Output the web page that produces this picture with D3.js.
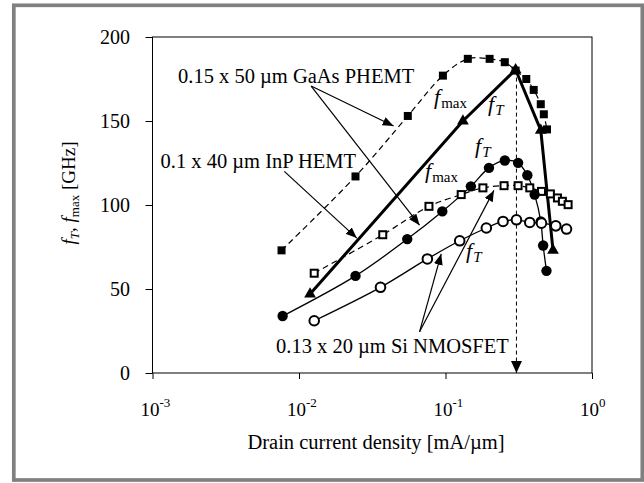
<html>
<head>
<meta charset="utf-8">
<title>fT fmax vs drain current density</title>
<script src="https://d3js.org/d3.v7.min.js"></script>
<style>
  body { margin: 0; background: #fff; }
  text { font-family: "Liberation Serif", "Times New Roman", serif; fill: #000; }
</style>
</head>
<body>
<div id="chart"></div>
<script>
// values: [drain current density mA/um, GHz]
var gaasFmax = [[0.0076, 73], [0.0243, 117], [0.0553, 153], [0.096, 177], [0.142, 187], [0.200, 187],
                [0.254, 185], [0.301, 180], [0.356, 175], [0.400, 168.5], [0.447, 160], [0.469, 154], [0.493, 145]];
var gaasFt = [[0.0119, 47], [0.1315, 150], [0.301, 180.5], [0.447, 144.5], [0.542, 73]];
var inpFmax = [[0.0127, 59.4], [0.0373, 82.3], [0.0771, 99.2], [0.128, 106.2], [0.180, 110.2], [0.251, 111.5],
               [0.313, 111.5], [0.376, 110.2], [0.452, 108.1], [0.520, 106.6], [0.581, 104.2], [0.628, 102.2], [0.687, 100.2]];
var inpFt = [[0.00773, 33.9], [0.0243, 57.8], [0.0548, 79.7], [0.0951, 96.2], [0.149, 111.1], [0.198, 122.1],
             [0.254, 126.5], [0.313, 125.1], [0.362, 117.7], [0.406, 106.2], [0.447, 90.2], [0.464, 75.9], [0.489, 60.8]];
var siFt = [[0.0127, 31.1], [0.036, 51], [0.0752, 67.9], [0.125, 78.7], [0.190, 86.3], [0.247, 90.2],
            [0.305, 91.2], [0.376, 89.6], [0.452, 89.2], [0.566, 87.6], [0.670, 85.7]];

var yTicks = [0, 50, 100, 150, 200];
var xTicks = [1e-3, 1e-2, 1e-1, 1];
var xExponents = ["-3", "-2", "-1", "0"];

// peak fT current density marker
var peakCurrent = [[0.305, 180], [0.305, 0]];

// annotation arrows: start point, tip point (data units)
var arrows = [
  [[0.0121, 170.8], [0.0442, 147]],
  [[0.0121, 170.8], [0.0665, 88]],
  [[0.00794, 120], [0.0248, 80.3]],
  [[0.0665, 24.5], [0.0935, 70.9]],
  [[0.0665, 24.5], [0.214, 108.7]]
];

var width = 644, height = 483;
var svg = d3.select("#chart").append("svg")
  .attr("width", width)
  .attr("height", height);

var x = d3.scaleLog().domain([1e-3, 1]).range([152.5, 592]);
var y = d3.scaleLinear().domain([0, 200]).range([373, 37]);

var defs = svg.append("defs");
defs.append("marker")
  .attr("id", "head")
  .attr("markerUnits", "userSpaceOnUse")
  .attr("viewBox", "0 0 11 9")
  .attr("refX", 11).attr("refY", 4.5)
  .attr("markerWidth", 11).attr("markerHeight", 9)
  .attr("orient", "auto")
  .append("path").attr("d", "M0,0 L11,4.5 L0,9 Z").attr("fill", "#000");
defs.append("marker")
  .attr("id", "bighead")
  .attr("markerUnits", "userSpaceOnUse")
  .attr("viewBox", "0 0 12 11")
  .attr("refX", 12).attr("refY", 5.5)
  .attr("markerWidth", 12).attr("markerHeight", 11)
  .attr("orient", "auto")
  .append("path").attr("d", "M0,0 L12,5.5 L0,11 Z").attr("fill", "#000");

// outer frame
svg.append("rect")
  .attr("x", 13.8).attr("y", 5.3)
  .attr("width", 628.5).attr("height", 474.7)
  .attr("fill", "none")
  .attr("stroke", "#808080")
  .attr("stroke-width", 3.7);

// plot box
svg.append("rect")
  .attr("x", x.range()[0]).attr("y", y.range()[1])
  .attr("width", x.range()[1] - x.range()[0])
  .attr("height", y.range()[0] - y.range()[1])
  .attr("fill", "none")
  .attr("stroke", "#000")
  .attr("stroke-width", 1);

// y axis
var yAxis = svg.append("g")
  .attr("transform", "translate(" + x.range()[0] + ",0)")
  .call(d3.axisLeft(y).tickValues(yTicks).tickSize(7).tickPadding(15.5));
yAxis.select(".domain").remove();
yAxis.selectAll(".tick line").attr("stroke", "#000");
yAxis.selectAll(".tick text")
  .style("font-family", "'Liberation Serif', 'Times New Roman', serif")
  .style("font-size", "20px");

// x axis
var xAxis = svg.append("g")
  .attr("transform", "translate(0," + y.range()[0] + ")")
  .call(d3.axisBottom(x).tickValues(xTicks).tickSize(6).tickFormat(""));
xAxis.select(".domain").remove();
xAxis.selectAll(".tick line").attr("stroke", "#000");
xAxis.selectAll(".tick").each(function(d, i) {
  var t = d3.select(this);
  t.append("text")
    .attr("x", -3).attr("y", 43)
    .attr("text-anchor", "middle")
    .style("font-size", "19px")
    .text("10");
  t.append("text")
    .attr("x", 6.5).attr("y", 34)
    .attr("text-anchor", "start")
    .style("font-size", "13px")
    .text(xExponents[i]);
});

// axis titles
svg.append("text")
  .attr("x", 376).attr("y", 449)
  .attr("text-anchor", "middle")
  .style("font-size", "20.5px")
  .text("Drain current density [mA/\u00b5m]");

var yt = svg.append("text")
  .attr("transform", "translate(75,193) rotate(-90)")
  .attr("text-anchor", "middle")
  .style("font-size", "19px");
yt.append("tspan").style("font-style", "italic").text("f");
yt.append("tspan").style("font-style", "italic").style("font-size", "13px").attr("dy", 4).text("T");
yt.append("tspan").attr("dy", -4).text(", ");
yt.append("tspan").style("font-style", "italic").text("f");
yt.append("tspan").style("font-size", "13px").attr("dy", 4).text("max");
yt.append("tspan").attr("dy", -4).text(" [GHz]");

// series lines
var smooth = d3.line()
  .x(function(d) { return x(d[0]); })
  .y(function(d) { return y(d[1]); })
  .curve(d3.curveCatmullRom.alpha(0.5));
var straight = d3.line()
  .x(function(d) { return x(d[0]); })
  .y(function(d) { return y(d[1]); });

svg.append("path").datum(gaasFmax).attr("d", smooth)
  .attr("fill", "none").attr("stroke", "#000").attr("stroke-width", 1.2).attr("stroke-dasharray", "6,4");
svg.append("path").datum(inpFmax).attr("d", smooth)
  .attr("fill", "none").attr("stroke", "#000").attr("stroke-width", 1.2).attr("stroke-dasharray", "6,4");
svg.append("path").datum(inpFt).attr("d", smooth)
  .attr("fill", "none").attr("stroke", "#000").attr("stroke-width", 1.3);
svg.append("path").datum(siFt).attr("d", smooth)
  .attr("fill", "none").attr("stroke", "#000").attr("stroke-width", 1.3);
svg.append("path").datum(gaasFt).attr("d", straight)
  .attr("fill", "none").attr("stroke", "#000").attr("stroke-width", 3);

// vertical dashed line at peak fT
svg.append("path").datum(peakCurrent).attr("d", straight)
  .attr("fill", "none").attr("stroke", "#000").attr("stroke-width", 1)
  .attr("stroke-dasharray", "4,3")
  .attr("marker-end", "url(#bighead)");

// markers
svg.selectAll(".gaasFmax").data(gaasFmax).enter().append("rect")
  .attr("x", function(d) { return x(d[0]) - 4; })
  .attr("y", function(d) { return y(d[1]) - 4; })
  .attr("width", 8).attr("height", 8)
  .attr("fill", "#000");

svg.selectAll(".inpFmax").data(inpFmax).enter().append("rect")
  .attr("x", function(d) { return x(d[0]) - 3.5; })
  .attr("y", function(d) { return y(d[1]) - 3.5; })
  .attr("width", 7).attr("height", 7)
  .attr("fill", "#fff").attr("stroke", "#000").attr("stroke-width", 2);

svg.selectAll(".inpFt").data(inpFt).enter().append("circle")
  .attr("cx", function(d) { return x(d[0]); })
  .attr("cy", function(d) { return y(d[1]); })
  .attr("r", 5.2)
  .attr("fill", "#000");

svg.selectAll(".siFt").data(siFt).enter().append("circle")
  .attr("cx", function(d) { return x(d[0]); })
  .attr("cy", function(d) { return y(d[1]); })
  .attr("r", 4.8)
  .attr("fill", "#fff").attr("stroke", "#000").attr("stroke-width", 2);

var tri = d3.symbol().type(d3.symbolTriangle).size(60);
svg.selectAll(".gaasFt").data(gaasFt).enter().append("path")
  .attr("d", tri)
  .attr("transform", function(d) { return "translate(" + x(d[0]) + "," + y(d[1]) + ")"; })
  .attr("fill", "#000");

// annotation arrows
svg.selectAll(".arrow").data(arrows).enter().append("path")
  .attr("d", straight)
  .attr("fill", "none").attr("stroke", "#000").attr("stroke-width", 1.2)
  .attr("marker-end", "url(#head)");

// device labels
svg.append("text").attr("x", 178).attr("y", 83).style("font-size", "20.5px")
  .text("0.15 x 50 \u00b5m GaAs PHEMT");
svg.append("text").attr("x", 160.5).attr("y", 168).style("font-size", "20.5px")
  .text("0.1 x 40 \u00b5m InP HEMT");
svg.append("text").attr("x", 276).attr("y", 353).style("font-size", "20.5px")
  .text("0.13 x 20 \u00b5m Si NMOSFET");

// f_T / f_max labels
function fLabel(px, py, sub, italicSub) {
  var t = svg.append("text").attr("x", px).attr("y", py).style("font-size", "22px");
  t.append("tspan").style("font-style", "italic").text("f");
  t.append("tspan").attr("dx", 1).attr("dy", 4).style("font-size", "15px")
    .style("font-style", italicSub ? "italic" : "normal").text(sub);
}
fLabel(434, 104, "max", false);
fLabel(488, 111, "T", true);
fLabel(475, 153, "T", true);
fLabel(425, 178, "max", false);
fLabel(466, 258, "T", true);
</script>
</body>
</html>
